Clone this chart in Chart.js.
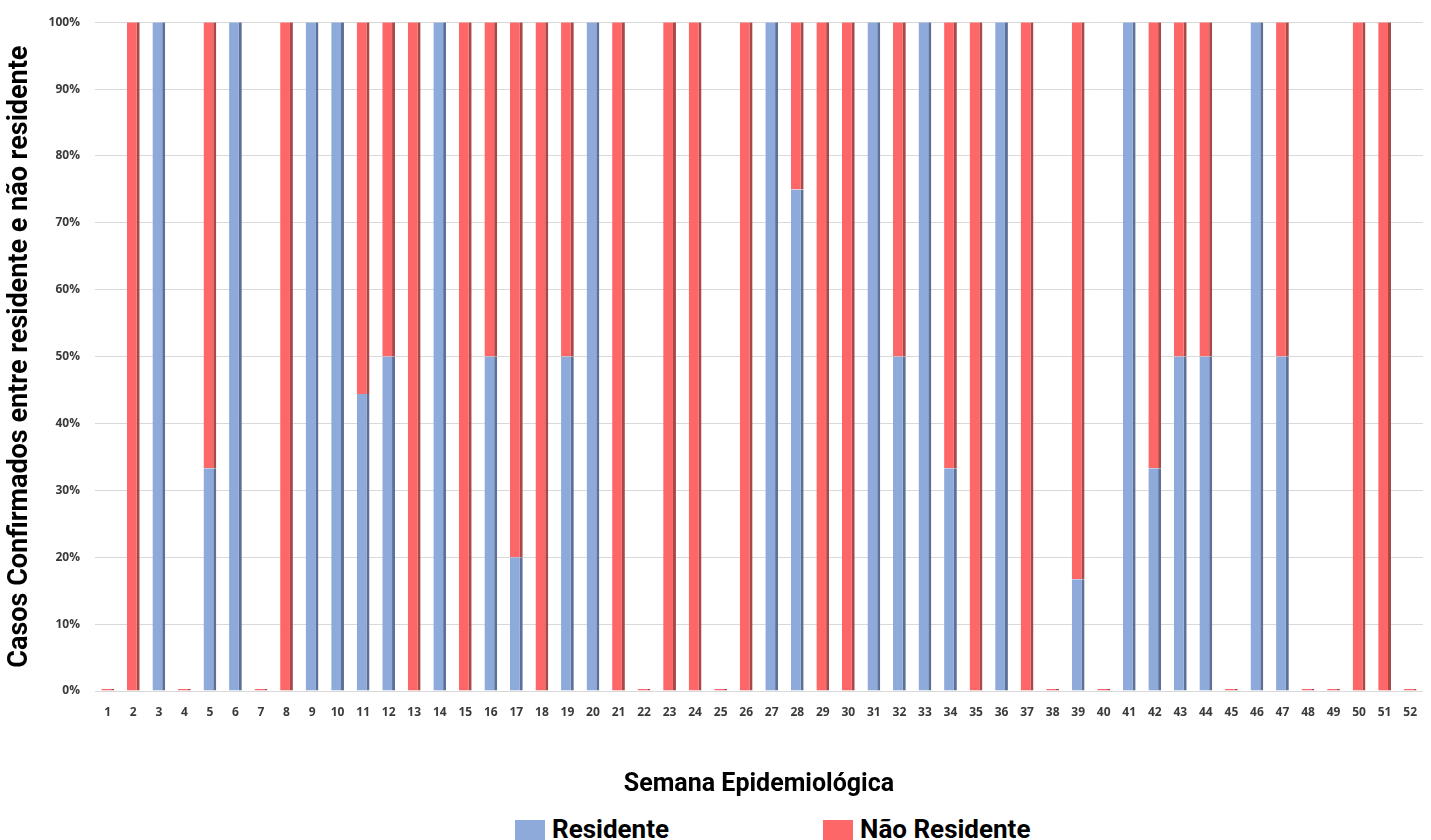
<!DOCTYPE html>
<html>
<head>
<meta charset="utf-8">
<script src="https://cdn.jsdelivr.net/npm/chart.js@4.4.1/dist/chart.umd.min.js"></script>
<style>
    body { margin: 0; background: #fff; }
    #wrap { position: relative; width: 1431px; height: 840px; overflow: hidden; }
    #chartBox { position: absolute; left: 0; top: 0; width: 1431px; height: 805px; }
    #legend { position: absolute; left: 515px; top: 813px; display: flex; gap: 154px;
        font: 700 26px Roboto, sans-serif; color: #000; line-height: 32px; }
    #legend .item { display: flex; align-items: center; }
    #legend .box { width: 30px; height: 22px; margin-right: 7px; margin-top: 4px; }
</style>
</head>
<body>
<div id="wrap">
    <div id="chartBox"><canvas id="chart"></canvas></div>
    <div id="legend"></div>
</div>
<script>
// semanas epidemiológicas 1..52
const weeks = Array.from({ length: 52 }, (_, i) => String(i + 1))

// % de casos confirmados por semana (null = sem casos naquela série)
const residente = [
    null, 0, 100, null, 33.3, 100, null, 0, 100, 100,
    44.4, 50, 0, 100, 0, 50, 20, 0, 50, 100,
    0, null, 0, 0, null, 0, 100, 75, 0, 0,
    100, 50, 100, 33.3, 0, 100, 0, null, 16.7, null,
    100, 33.3, 50, 50, null, 100, 50, null, null, 0,
    0, null
]
const naoResidente = [
    0, 100, null, 0, 66.7, null, 0, 100, null, null,
    55.6, 50, 100, null, 100, 50, 80, 100, 50, null,
    100, 0, 100, 100, 0, 100, null, 25, 100, 100,
    null, 50, null, 66.7, 100, null, 100, 0, 83.3, 0,
    null, 66.7, 50, 50, 0, null, 50, 0, 0, 100,
    100, 0
]
const yTicks = [0, 10, 20, 30, 40, 50, 60, 70, 80, 90, 100]

const blue = "#8eaadb", blueSide = "#5d7198"
const red = "#fe6767", redSide = "#a84848"
const tickFont = { family: "'Open Sans', sans-serif", size: 12, weight: "700" }

const chart = new Chart(document.getElementById("chart"), {
    type: "bar",
    data: {
        labels: weeks,
        datasets: [
            {
                label: "Residente",
                data: residente,
                backgroundColor: blue,
                borderColor: blueSide,
                borderWidth: { top: 0, right: 3, bottom: 0, left: 0 },
                borderSkipped: false
            },
            {
                label: "Não Residente",
                data: naoResidente,
                backgroundColor: red,
                borderColor: redSide,
                borderWidth: { top: 0, right: 3, bottom: 0, left: 0 },
                borderSkipped: false,
                minBarLength: 2
            }
        ]
    },
    options: {
        responsive: true,
        maintainAspectRatio: false,
        animation: false,
        layout: { padding: { top: 20, right: 0, bottom: 0, left: 0 } },
        datasets: { bar: { barPercentage: 0.5, categoryPercentage: 1 } },
        plugins: { legend: { display: false }, tooltip: { enabled: false } },
        scales: {
            x: {
                stacked: true,
                grid: { display: false, drawTicks: false },
                border: { display: false },
                ticks: { color: "#3a3a3a", font: tickFont, padding: 14, autoSkip: false, maxRotation: 0 },
                title: {
                    display: true, text: "Semana Epidemiológica", color: "#000",
                    font: { family: "Roboto, sans-serif", size: 25, weight: "700" },
                    padding: { top: 0, bottom: 5 }
                },
                afterFit: scale => { scale.height = 114 }
            },
            y: {
                stacked: true,
                min: 0,
                max: 100,
                afterBuildTicks: scale => { scale.ticks = yTicks.map(v => ({ value: v })) },
                grid: { color: "#d9d9d9", lineWidth: 1, drawTicks: false },
                border: { display: false },
                ticks: { color: "#3a3a3a", font: tickFont, padding: 15, callback: v => v + "%" },
                title: {
                    display: true, text: "Casos Confirmados entre residente e não residente", color: "#000",
                    font: { family: "Roboto, sans-serif", size: 27, weight: "700" },
                    padding: { top: 4, bottom: 0 }
                },
                afterFit: scale => { scale.width = 95 }
            }
        }
    }
})

// legenda em HTML, montada a partir dos datasets
const legend = document.getElementById("legend")
chart.data.datasets.forEach(ds => {
    const item = document.createElement("div")
    item.className = "item"
    const box = document.createElement("span")
    box.className = "box"
    box.style.background = ds.backgroundColor
    const text = document.createElement("span")
    text.textContent = ds.label
    item.append(box, text)
    legend.append(item)
})
</script>
</body>
</html>
